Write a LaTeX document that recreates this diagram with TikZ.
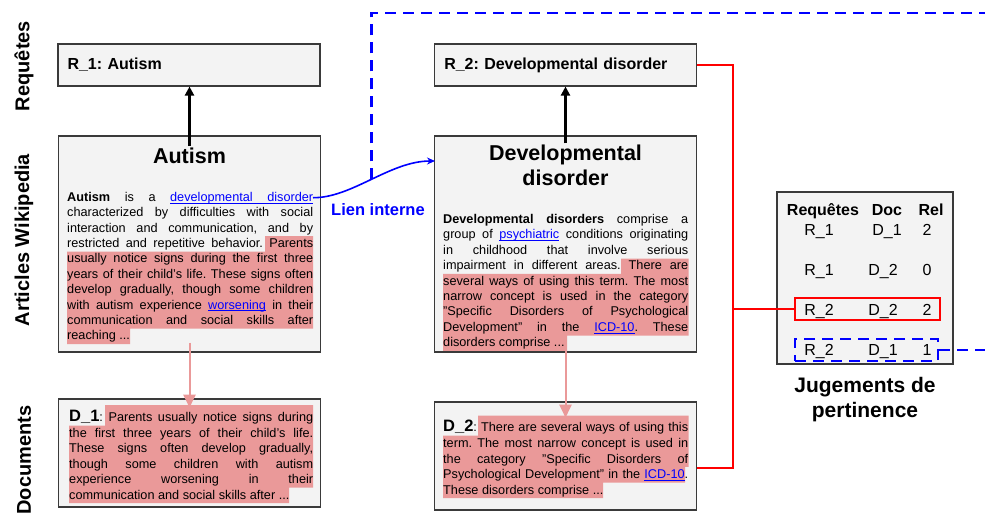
\documentclass[tikz,border=0pt]{standalone}
\usepackage{fontspec}
\setmainfont{Liberation Sans}
\usepackage{xcolor}
\usetikzlibrary{arrows.meta}
\definecolor{boxgray}{HTML}{F3F3F3}
\definecolor{bordergray}{HTML}{3A3A3A}
\definecolor{hlpink}{HTML}{EA9999}
\definecolor{linkblue}{HTML}{0000FF}
\newcommand{\lnk}[1]{{\color{linkblue}\setbox0\hbox{#1}\rlap{\rule[-2.3pt]{\wd0}{0.9pt}}\box0}}
\newcommand{\lnksp}{{\color{linkblue}\leaders\vrule height -1.4pt depth 2.3pt\hskip\fontdimen2\font plus\fontdimen3\font minus\fontdimen4\font}}
\hyphenpenalty=10000
\tolerance=9999
\frenchspacing

\begin{document}
\begin{tikzpicture}[x=1pt, y=-1pt,
	box/.style={draw=bordergray, fill=boxgray, line width=1.1pt, inner sep=0pt},
	qbox/.style={box, text width=243pt, inner xsep=9.5pt, minimum height=42pt, align=left, font=\fontsize{16}{19}\selectfont\bfseries},
	arttitle/.style={font=\fontsize{21.5}{25}\selectfont\bfseries, align=center, inner sep=1pt},
	body/.style={anchor=north west, inner sep=0pt, text width=#1, align=justify, font=\fontsize{12.7}{15.4}\selectfont},
	sidelabel/.style={rotate=90, font=\fontsize{20}{24}\selectfont\bfseries},
	uparrow/.style={-{Triangle[length=9pt,width=9pt]}, line width=2.2pt},
	downarrow/.style={hlpink, -{Triangle[length=13pt,width=12pt]}, line width=2pt},
	redline/.style={red, line width=2.6pt},
	dashlink/.style={linkblue, line width=2.6pt, dash pattern=on 11pt off 7pt},
	cell/.style={font=\fontsize{16}{19}\selectfont, anchor=base}]
	\useasboundingbox (0,0) rectangle (985,515);
	
	% rangées
	\foreach \t/\y/\n in {Requêtes/66/s1, Articles Wikipedia/240/s2, Documents/460/s3}
		\node[sidelabel] (\n) at (24,\y) {\t};
	
	% requêtes
	\node[qbox] (r1) at (189,65) {R\_1: Autism};
	\node[qbox] (r2) at (565.75,65) {R\_2: Developmental disorder};
	
	% cadres
	\node[box, minimum width=262pt, minimum height=216pt] (a1) at (189.5,244) {};
	\node[box, minimum width=262pt, minimum height=216pt] (a2) at (565.5,244) {};
	\node[box, minimum width=262pt, minimum height=108pt] (d1) at (189.5,453) {};
	\node[box, minimum width=262pt, minimum height=108pt] (d2) at (565.5,456) {};
	\node[box, minimum width=176pt, minimum height=172pt] (jug) at (865,278) {};
	
	% surlignage
	\fill[hlpink] (265,236.2) -- (313,236.2) -- (313,328.6) -- (130,328.6) -- (130,344) -- (67,344) -- (67,251.6) -- (265,251.6) -- cycle;
	\fill[hlpink] (621,258.5) -- (688.5,258.5) -- (688.5,335.5) -- (567,335.5) -- (567,350.9) -- (443,350.9) -- (443,273.9) -- (621,273.9) -- cycle;
	\fill[hlpink] (105,405) -- (313,405) -- (313,487.7) -- (289,487.7) -- (289,503.2) -- (69,503.2) -- (69,425.7) -- (105,425.7) -- cycle;
	\fill[hlpink] (478,415.7) -- (688.5,415.7) -- (688.5,466.9) -- (685,466.9) -- (685,482.5) -- (603,482.5) -- (603,498.1) -- (443,498.1) -- (443,435.7) -- (478,435.7) -- cycle;
	
	% articles
	\node[arttitle, anchor=base] (t1) at (189.5,163) {Autism};
	\node[arttitle] (t2) at (565.5,165) {Developmental\\disorder};
	\node[body=246pt] (b1) at (67,190) {\rule{0pt}{11pt}\textbf{Autism} is a \lnk{developmental}\lnksp\lnk{disorder}\linebreak
		characterized by difficulties with social\linebreak
		interaction and communication, and by\linebreak
		restricted and repetitive behavior. Parents\linebreak
		usually notice signs during the first three\linebreak
		years of their child's life. These signs often\linebreak
		develop gradually, though some children\linebreak
		with autism experience \lnk{worsening} in their\linebreak
		communication and social skills after\linebreak
		reaching ...};
	\node[body=245pt] (b2) at (443,212.3) {\rule{0pt}{11pt}\textbf{Developmental disorders} comprise a\linebreak
		group of \lnk{psychiatric} conditions originating\linebreak
		in childhood that involve serious\linebreak
		impairment in different areas. There are\linebreak
		several ways of using this term. The most\linebreak
		narrow concept is used in the category\linebreak
		"Specific Disorders of Psychological\linebreak
		Development" in the \lnk{ICD-10}. These\linebreak
		disorders comprise ...};
	
	% documents
	\node[body=244pt, font=\fontsize{12.7}{15.5}\selectfont] (b3) at (69,407.7) {\rule{0pt}{14pt}{\fontsize{16.5}{15.5}\selectfont\bfseries D\_1}: Parents usually notice signs during\linebreak
		the first three years of their child's life.\linebreak
		These signs often develop gradually,\linebreak
		though some children with autism\linebreak
		experience worsening in their\linebreak
		communication and social skills after ...};
	\node[body=245pt, font=\fontsize{12.7}{15.6}\selectfont] (b4) at (443,417.7) {\rule{0pt}{14pt}{\fontsize{16.5}{15.6}\selectfont\bfseries D\_2}: There are several ways of using this\linebreak
		term. The most narrow concept is used in\linebreak
		the category "Specific Disorders of\linebreak
		Psychological Development" in the \lnk{ICD-10}.\linebreak
		These disorders comprise ...};
	
	% fleches
	\draw[uparrow] (t1.north) -- (t1 |- r1.south);
	\draw[uparrow] (t2.north) -- (t2 |- r2.south);
	\draw[downarrow] (t1 |- b1.south) -- (t1 |- b3.north);
	\draw[downarrow] (t2 |- b2.south) -- (t2 |- b4.north);
	
	% lien interne
	\coordinate (lnkout) at (313,197.7);
	\coordinate (lnkin) at (435,161);
	\coordinate (edgetop) at (990,13);
	\draw[linkblue, line width=1.6pt, -{Stealth[length=8pt,width=7pt]}] (lnkout) .. controls (352,198) and (390,161) .. (lnkin) coordinate[pos=0.5] (lnkmid);
	\draw[dashlink] (lnkmid) |- (edgetop);
	\node[font=\fontsize{16.5}{20}\selectfont\bfseries, text=linkblue, anchor=base] (lien) at (378,215) {Lien interne};
	
	% jugements
	\foreach \h/\x in {Requêtes/823, Doc/887, Rel/931}
		\node[cell, font=\fontsize{16}{19}\selectfont\bfseries] (h\x) at (\x,215) {\h};
	\foreach \r/\d/\dx/\v/\y in {R\_1/D\_1/887/2/235, R\_1/D\_2/883/0/275, R\_2/D\_2/883/2/315, R\_2/D\_1/883/1/355}{
		\node[cell] (q\y) at (819,\y) {\r};
		\node[cell] (c\y) at (\dx,\y) {\d};
		\node[cell] (v\y) at (927,\y) {\v};
	}
	\node[draw=red, line width=2.2pt, minimum width=145pt, minimum height=22pt, inner sep=0pt] (rsel) at (867.5,309) {};
	\node[draw=linkblue, line width=2.6pt, dash pattern=on 11pt off 7pt, minimum width=143pt, minimum height=22pt, inner sep=0pt] (bsel) at (866.5,350) {};
	\node[font=\fontsize{21}{25}\selectfont\bfseries, align=center] (jp) at (865,400) {Jugements de\\pertinence};
	
	% liaisons
	\coordinate (rj) at (733,468);
	\coordinate (edgeright) at (990,350);
	\draw[redline] (r2.east) -| (rj) -- (rj -| d2.east);
	\draw[redline] (rj |- rsel.west) -- (rsel.west);
	\draw[dashlink] (bsel.east) -- (bsel.east -| edgeright);
\end{tikzpicture}
\end{document}
